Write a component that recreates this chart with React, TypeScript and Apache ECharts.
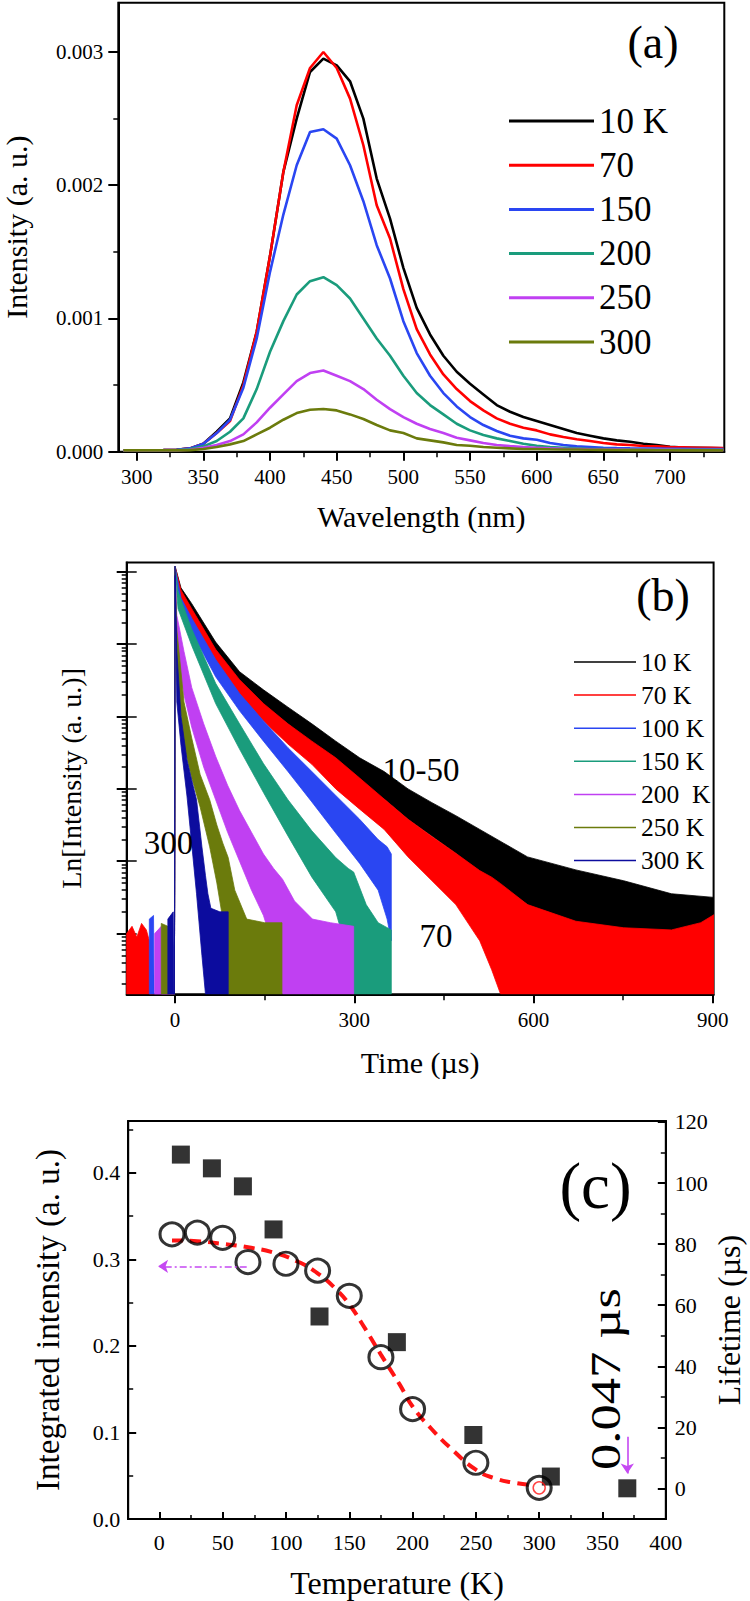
import React, { useEffect, useRef } from "react";
import * as echarts from "echarts";

const FONT = "Liberation Serif, Times New Roman, serif";

// ---------------- Panel (a): PL spectra (intensity in units of 1e-3 a.u.) ----------------
const wavelengthNm = [290, 300, 310, 320, 330, 340, 350, 360, 370, 380, 390, 400, 410, 420, 430, 440, 450, 460, 470, 480, 490, 500, 510, 520, 530, 540, 550, 560, 570, 580, 590, 600, 610, 620, 630, 640, 650, 660, 670, 680, 690, 700, 710, 720, 730, 740];
const plLabels = ["10 K", "70", "150", "200", "250", "300"];
const pl10 = [0.01, 0.01, 0.01, 0.012, 0.015, 0.025, 0.06, 0.15, 0.25, 0.52, 0.9, 1.47, 2.1, 2.5, 2.85, 2.95, 2.9, 2.78, 2.5, 2.05, 1.75, 1.38, 1.08, 0.88, 0.72, 0.6, 0.51, 0.43, 0.35, 0.3, 0.26, 0.23, 0.2, 0.17, 0.14, 0.12, 0.1, 0.085, 0.075, 0.06, 0.05, 0.037, 0.032, 0.03, 0.028, 0.025];
const pl70 = [0.01, 0.01, 0.01, 0.012, 0.015, 0.025, 0.06, 0.14, 0.23, 0.5, 0.9, 1.47, 2.1, 2.6, 2.88, 3.0, 2.88, 2.65, 2.3, 1.85, 1.6, 1.22, 0.92, 0.73, 0.58, 0.47, 0.38, 0.31, 0.25, 0.21, 0.18, 0.16, 0.13, 0.11, 0.094, 0.08, 0.065, 0.055, 0.05, 0.043, 0.04, 0.035, 0.033, 0.03, 0.03, 0.028];
const pl150 = [0.01, 0.01, 0.01, 0.012, 0.015, 0.025, 0.06, 0.14, 0.24, 0.48, 0.85, 1.35, 1.78, 2.15, 2.4, 2.42, 2.35, 2.15, 1.88, 1.55, 1.3, 0.98, 0.74, 0.57, 0.44, 0.34, 0.26, 0.2, 0.155, 0.12, 0.1, 0.09, 0.065, 0.05, 0.04, 0.035, 0.03, 0.027, 0.025, 0.024, 0.023, 0.022, 0.021, 0.02, 0.02, 0.02];
const pl200 = [0.01, 0.01, 0.01, 0.01, 0.012, 0.02, 0.04, 0.08, 0.15, 0.25, 0.47, 0.75, 0.98, 1.18, 1.28, 1.31, 1.25, 1.15, 1.0, 0.85, 0.72, 0.57, 0.44, 0.35, 0.28, 0.21, 0.16, 0.125, 0.1, 0.08, 0.06, 0.045, 0.035, 0.03, 0.025, 0.02, 0.02, 0.018, 0.018, 0.017, 0.016, 0.016, 0.015, 0.015, 0.015, 0.015];
const pl250 = [0.01, 0.01, 0.01, 0.01, 0.01, 0.015, 0.03, 0.05, 0.08, 0.13, 0.22, 0.33, 0.43, 0.53, 0.59, 0.61, 0.57, 0.53, 0.47, 0.39, 0.32, 0.26, 0.21, 0.17, 0.14, 0.105, 0.085, 0.065, 0.05, 0.042, 0.035, 0.03, 0.025, 0.022, 0.02, 0.018, 0.017, 0.016, 0.015, 0.015, 0.014, 0.014, 0.013, 0.013, 0.012, 0.012];
const pl300 = [0.01, 0.01, 0.01, 0.01, 0.01, 0.012, 0.02, 0.035, 0.055, 0.08, 0.13, 0.18, 0.24, 0.29, 0.315, 0.32, 0.31, 0.28, 0.245, 0.2, 0.16, 0.14, 0.1, 0.085, 0.07, 0.05, 0.045, 0.035, 0.03, 0.025, 0.02, 0.02, 0.018, 0.017, 0.016, 0.015, 0.014, 0.013, 0.012, 0.012, 0.011, 0.011, 0.01, 0.01, 0.01, 0.01];
const aXTicks = [300, 350, 400, 450, 500, 550, 600, 650, 700];
const aXMinor = [325, 375, 425, 475, 525, 575, 625, 675, 725];
const aYTicks = [0, 1, 2, 3];
const aYMinor = [0.5, 1.5, 2.5];

// ---------------- Panel (b): decay curves (log10 intensity, noise band upper/lower) ----------------
const decayLabels = ["10 K", "70 K", "100 K", "150 K", "200  K", "250 K", "300 K"];
const dT10 = [-1, 0, 10, 28, 68, 108, 148, 189, 229, 269, 309, 350, 390, 430, 470, 510, 550, 590, 671, 751, 831, 902];
const dU10 = [-0.84, 5.08, 4.78, 4.56, 4.03, 3.62, 3.37, 3.13, 2.9, 2.66, 2.43, 2.24, 2.0, 1.81, 1.63, 1.44, 1.25, 1.06, 0.88, 0.73, 0.55, 0.5];
const dL10 = [-0.84, 5.0, 4.67, 4.42, 3.84, 3.44, 3.16, 2.9, 2.62, 2.34, 2.05, 1.86, 1.58, 1.35, 1.11, 0.83, 0.64, 0.4, -0.07, -0.39, -0.63, -0.72];
const dT70 = [-81, -72, -64, -56, -48, -43, -42, -1, 0, 10, 28, 68, 108, 148, 189, 229, 269, 309, 350, 390, 430, 470, 510, 530, 545, 590, 671, 751, 831, 880, 902];
const dU70 = [0.0, 0.1, -0.05, 0.14, 0.05, -0.1, -0.84, -0.84, 5.08, 4.75, 4.49, 3.93, 3.51, 3.18, 2.9, 2.66, 2.43, 2.15, 1.86, 1.58, 1.34, 1.11, 0.87, 0.78, 0.69, 0.4, 0.17, 0.08, 0.05, 0.15, 0.26];
const dL70 = [-0.84, -0.84, -0.84, -0.84, -0.84, -0.84, -0.84, -0.84, 5.0, 4.63, 4.35, 3.74, 3.3, 2.94, 2.62, 2.34, 2.0, 1.72, 1.44, 1.06, 0.73, 0.4, -0.1, -0.5, -0.84, -0.84, -0.84, -0.84, -0.84, -0.84, -0.84];
const dT100 = [-43, -36, -35, -1, 0, 10, 28, 68, 108, 148, 189, 229, 269, 309, 340, 355, 362];
const dU100 = [0.2, 0.25, -0.84, -0.84, 5.08, 4.64, 4.36, 3.79, 3.32, 2.94, 2.57, 2.24, 1.91, 1.58, 1.3, 1.2, 1.1];
const dL100 = [-0.84, -0.84, -0.84, -0.84, 5.0, 4.49, 4.17, 3.55, 3.08, 2.66, 2.24, 1.82, 1.39, 0.97, 0.6, 0.2, -0.1];
const dT150 = [-1, 0, 5, 28, 68, 108, 148, 189, 229, 269, 290, 299, 320, 340, 362];
const dU150 = [-0.84, 5.08, 4.73, 4.21, 3.46, 2.9, 2.35, 1.85, 1.42, 1.05, 0.9, 0.85, 0.4, 0.15, 0.05];
const dL150 = [-0.84, 5.0, 4.49, 3.98, 3.18, 2.55, 1.95, 1.35, 0.78, 0.3, -0.3, -0.84, -0.84, -0.84, -0.84];
const dT200 = [-34, -23, -22, -1, 0, 3, 15, 28, 48, 68, 88, 108, 128, 148, 165, 180, 200, 230, 260, 299];
const dU200 = [0.0, 0.1, -0.84, -0.84, 5.08, 4.4, 3.9, 3.4, 2.9, 2.45, 2.05, 1.7, 1.4, 1.1, 0.9, 0.75, 0.45, 0.2, 0.15, 0.1];
const dL200 = [-0.84, -0.84, -0.84, -0.84, 5.0, 3.9, 3.3, 2.85, 2.3, 1.85, 1.4, 1.0, 0.6, 0.25, -0.2, -0.84, -0.84, -0.84, -0.84, -0.84];
const dT250 = [-23, -12, -11, -1, 0, 3, 15, 28, 42, 58, 70, 80, 89, 100, 120, 150, 179];
const dU250 = [0.14, 0.1, -0.84, -0.84, 5.08, 4.2, 3.2, 2.7, 2.2, 1.85, 1.5, 1.25, 1.05, 0.6, 0.2, 0.15, 0.15];
const dL250 = [-0.84, -0.84, -0.84, -0.84, 5.0, 3.6, 2.6, 2.15, 1.75, 1.2, 0.7, 0.2, -0.84, -0.84, -0.84, -0.84, -0.84];
const dT300 = [-12, -3, -2, -1, 0, 3, 10, 20, 30, 36, 45, 51, 55, 60, 75, 89];
const dU300 = [0.2, 0.3, -0.84, -0.84, 5.08, 3.9, 3.0, 2.4, 2.05, 1.85, 1.2, 0.8, 0.55, 0.35, 0.3, 0.3];
const dL300 = [-0.84, -0.84, -0.84, -0.84, 4.95, 3.2, 2.6, 1.9, 1.06, 0.55, -0.3, -0.84, -0.84, -0.84, -0.84, -0.84];
const bXTicks = [0, 300, 600, 900];
const bXMinor = [150, 450, 750];
const bYDecades = [0, 1, 2, 3, 4, 5];
const bYMinor = [-1, 0, 1, 2, 3, 4].flatMap((n) => [2, 3, 4, 5, 6, 7, 8, 9].map((k) => n + Math.log10(k))).filter((v) => v > -0.84 && v < 5.13);

// ---------------- Panel (c) ----------------
const tempCircle = [10, 30, 50, 70, 100, 125, 150, 175, 200, 250, 300];
const intCircle = [0.329, 0.331, 0.325, 0.297, 0.295, 0.287, 0.258, 0.187, 0.127, 0.065, 0.036];
const tempSquare = [17, 41.5, 66, 90.2, 126.5, 187.6, 248, 309.2, 369.6];
const lifeSquare = [109.3, 104.8, 98.9, 84.8, 56.3, 47.9, 17.5, 3.9, 0.047];
const fitT = [10, 30, 50, 70, 90, 110, 125, 140, 150, 160, 175, 190, 200, 215, 230, 250, 265, 280, 295];
const fitI = [0.322, 0.321, 0.318, 0.314, 0.308, 0.297, 0.284, 0.265, 0.248, 0.226, 0.19, 0.155, 0.13, 0.104, 0.082, 0.057, 0.047, 0.042, 0.039];
const cXTicks = [0, 50, 100, 150, 200, 250, 300, 350, 400];
const cXMinor = [25, 75, 125, 175, 225, 275, 325, 375];
const cYLTicks = [0, 0.1, 0.2, 0.3, 0.4];
const cYLMinor = [0.05, 0.15, 0.25, 0.35, 0.45];
const cYRTicks = [0, 20, 40, 60, 80, 100, 120];
const cYRMinor = [-10, 10, 30, 50, 70, 90, 110];

const COL = {
  black: "#000000",
  red: "#ff0000",
  blue: "#2a46f2",
  teal: "#1a9c7c",
  magenta: "#c040f2",
  olive: "#6b7b0c",
  navy: "#0c0c9e",
};

const BLK = "#000";

function tickAxis(gridIndex: number, position: string, min: number, max: number, values: number[], length: number, inside: boolean) {
  return {
    type: "value",
    gridIndex,
    position,
    min,
    max,
    axisLine: { show: false, onZero: false },
    axisTick: { show: true, inside, length, customValues: values, lineStyle: { color: BLK, width: 1.5 } },
    axisLabel: { show: false },
    splitLine: { show: false },
  };
}

function mainAxis(o: any) {
  return {
    type: "value",
    gridIndex: o.grid,
    position: o.position,
    min: o.min,
    max: o.max,
    axisLine: { show: true, onZero: false, lineStyle: { color: BLK, width: 2 } },
    axisTick: { show: true, inside: !!o.inside, length: o.tickLen, customValues: o.ticks, lineStyle: { color: BLK, width: 2 } },
    axisLabel: o.labels
      ? { show: true, customValues: o.ticks, formatter: o.formatter, fontSize: o.labelSize, fontFamily: FONT, color: BLK, margin: o.margin }
      : { show: false },
    splitLine: { show: false },
    name: o.name,
    nameLocation: "middle",
    nameGap: o.nameGap,
    nameRotate: o.nameRotate,
    nameMoveOverlap: false,
    nameTextStyle: { fontSize: o.nameSize, fontFamily: FONT, color: BLK },
  };
}

function lineSeries(name: string, color: string, values: number[]) {
  return {
    type: "line",
    name,
    xAxisIndex: 0,
    yAxisIndex: 0,
    color,
    itemStyle: { color },
    symbol: "none",
    showSymbol: false,
    lineStyle: { color, width: 2.6 },
    data: wavelengthNm.map((w, i) => [w, values[i]]),
    z: 2,
  };
}

function bandSeries(name: string, color: string, T: number[], U: number[], L: number[]) {
  return {
    type: "custom",
    name,
    xAxisIndex: 2,
    yAxisIndex: 2,
    color,
    itemStyle: { color },
    clip: true,
    data: T.map((t, i) => [t, U[i], L[i]]),
    encode: { x: 0, y: [1, 2] },
    renderItem: (params: any, api: any) => {
      if (params.dataIndex !== 0) return null;
      const pts: number[][] = [];
      for (let i = 0; i < T.length; i++) pts.push(api.coord([T[i], U[i]]));
      for (let i = T.length - 1; i >= 0; i--) pts.push(api.coord([T[i], L[i]]));
      return {
        type: "polygon",
        shape: { points: pts },
        style: { fill: color, stroke: color, lineWidth: 0.8 },
      };
    },
  };
}

function txt(text: string, x: number, y: number, size: number, rotation = 0, scaleX = 1) {
  return {
    type: "text",
    x,
    y,
    rotation,
    scaleX,
    z: 100,
    style: { text, fontSize: size, fontFamily: FONT, fill: BLK, align: "center", verticalAlign: "middle" },
  };
}

function buildOption() {
  const gridBase = { show: true, borderColor: BLK, borderWidth: 2, backgroundColor: "transparent", outerBoundsMode: "none", containLabel: false };
  return {
    animation: false,
    backgroundColor: "#ffffff",
    textStyle: { fontFamily: FONT },
    grid: [
      { ...gridBase, left: 118.3, top: 2.7, width: 606, height: 449 },
      { ...gridBase, left: 126.7, top: 562.5, width: 586.9, height: 431.8 },
      { ...gridBase, left: 128.2, top: 1121, width: 537.6, height: 398 },
    ],
    xAxis: [
      mainAxis({ grid: 0, position: "bottom", min: 286.2, max: 740.7, ticks: aXTicks, tickLen: 9, labels: true, labelSize: 21, margin: 15, name: "Wavelength (nm)", nameGap: 50, nameSize: 30 }),
      tickAxis(0, "bottom", 286.2, 740.7, aXMinor, 5.5, false),
      mainAxis({ grid: 1, position: "bottom", min: -80.9, max: 901.5, ticks: bXTicks, tickLen: 9, labels: true, labelSize: 21, margin: 15, name: "Time (µs)", nameGap: 53, nameSize: 30 }),
      tickAxis(1, "bottom", -80.9, 901.5, bXMinor, 6, false),
      mainAxis({ grid: 2, position: "bottom", min: -24.6, max: 400, ticks: cXTicks, tickLen: 7, inside: true, labels: true, labelSize: 22, margin: 12, name: "Temperature (K)", nameGap: 48, nameSize: 32 }),
      tickAxis(2, "bottom", -24.6, 400, cXMinor, 4, true),
    ],
    yAxis: [
      mainAxis({ grid: 0, position: "left", min: 0, max: 3.37, ticks: aYTicks, tickLen: 10, labels: true, labelSize: 21, margin: 15, formatter: (v: number) => (v / 1000).toFixed(3), name: "Intensity (a. u.)", nameGap: 86.6, nameRotate: 90, nameSize: 30 }),
      tickAxis(0, "left", 0, 3.37, aYMinor, 5, false),
      mainAxis({ grid: 1, position: "left", min: -0.84, max: 5.13, ticks: bYDecades, tickLen: 10, labels: false, name: "Ln[Intensity (a. u.)]", nameGap: 41, nameRotate: 90, nameSize: 28 }),
      tickAxis(1, "left", -0.84, 5.13, bYMinor, 5, false),
      tickAxis(1, "left", -0.84, 5.13, bYDecades, 10, true),
      mainAxis({ grid: 2, position: "left", min: 0, max: 0.46, ticks: cYLTicks, tickLen: 8, inside: true, labels: true, labelSize: 22, margin: 8, formatter: (v: number) => v.toFixed(1), name: "Integrated intensity (a. u.)", nameGap: 64, nameRotate: 90, nameSize: 33 }),
      tickAxis(2, "left", 0, 0.46, cYLMinor, 5, true),
      mainAxis({ grid: 2, position: "right", min: -10, max: 120.3, ticks: cYRTicks, tickLen: 8, inside: true, labels: true, labelSize: 22, margin: 9, formatter: (v: number) => String(v), name: "Lifetime (µs)", nameGap: 47, nameRotate: 90, nameSize: 32 }),
      tickAxis(2, "right", -10, 120.3, cYRMinor, 5, true),
    ],
    legend: [
      {
        data: plLabels,
        orient: "vertical",
        left: 509,
        top: 103.5,
        padding: 0,
        icon: "rect",
        itemWidth: 85,
        itemHeight: 3,
        itemGap: 9.2,
        selectedMode: false,
        textStyle: { fontSize: 35, lineHeight: 35, fontFamily: FONT, color: BLK },
      },
      {
        data: decayLabels,
        orient: "vertical",
        left: 574,
        top: 649,
        padding: 0,
        icon: "rect",
        itemWidth: 62,
        itemHeight: 1.5,
        itemGap: 7.1,
        selectedMode: false,
        textStyle: { fontSize: 25.5, lineHeight: 25.5, fontFamily: FONT, color: BLK },
      },
    ],
    series: [
      lineSeries(plLabels[0], COL.black, pl10),
      lineSeries(plLabels[1], COL.red, pl70),
      lineSeries(plLabels[2], COL.blue, pl150),
      lineSeries(plLabels[3], COL.teal, pl200),
      lineSeries(plLabels[4], COL.magenta, pl250),
      lineSeries(plLabels[5], COL.olive, pl300),
      bandSeries(decayLabels[0], COL.black, dT10, dU10, dL10),
      bandSeries(decayLabels[1], COL.red, dT70, dU70, dL70),
      bandSeries(decayLabels[2], COL.blue, dT100, dU100, dL100),
      bandSeries(decayLabels[3], COL.teal, dT150, dU150, dL150),
      bandSeries(decayLabels[4], COL.magenta, dT200, dU200, dL200),
      bandSeries(decayLabels[5], COL.olive, dT250, dU250, dL250),
      bandSeries(decayLabels[6], COL.navy, dT300, dU300, dL300),
      {
        type: "line",
        name: "fit",
        xAxisIndex: 4,
        yAxisIndex: 5,
        symbol: "none",
        smooth: true,
        lineStyle: { color: "#ff1414", width: 4, type: [11, 7] },
        data: fitT.map((t, i) => [t, fitI[i]]),
        z: 2,
      },
      {
        type: "scatter",
        name: "Integrated intensity",
        xAxisIndex: 4,
        yAxisIndex: 5,
        symbol: "circle",
        symbolSize: [24, 23],
        itemStyle: { color: "rgba(0,0,0,0)", borderColor: BLK, borderWidth: 3 },
        data: tempCircle.map((t, i) => [t, intCircle[i]]),
        z: 3,
        markLine: {
          silent: true,
          symbol: ["none", "arrow"],
          symbolSize: 10,
          label: { show: false },
          lineStyle: { color: "#c548f2", width: 1.6, type: [7, 3, 2, 3] },
          data: [[{ coord: [69, 0.292] }, { coord: [-1, 0.292] }]],
        },
      },
      {
        type: "scatter",
        name: "ref",
        xAxisIndex: 4,
        yAxisIndex: 5,
        symbol: "circle",
        symbolSize: 12,
        itemStyle: { color: "rgba(0,0,0,0)", borderColor: "#ff1414", borderWidth: 1.5 },
        data: [[tempCircle[10], intCircle[10]]],
        z: 4,
      },
      {
        type: "scatter",
        name: "Lifetime",
        xAxisIndex: 4,
        yAxisIndex: 7,
        symbol: "rect",
        symbolSize: [18, 18],
        itemStyle: { color: BLK },
        data: tempSquare.map((t, i) => [t, lifeSquare[i]]),
        z: 3,
        markLine: {
          silent: true,
          symbol: ["none", "arrow"],
          symbolSize: 10,
          label: { show: false },
          lineStyle: { color: "#c548f2", width: 1.6, type: "solid" },
          data: [[{ coord: [369.6, 16.9] }, { coord: [369.6, 4.9] }]],
        },
      },
    ],
    graphic: [
      txt("(a)", 653, 42.5, 46),
      txt("(b)", 663, 595.6, 46),
      txt("(c)", 595.5, 1186, 65),
      txt("10-50", 421, 770, 33),
      txt("70", 436, 936, 33),
      txt("300", 168.5, 843, 33),
      txt("0.047 µs", 605, 1379, 43, Math.PI / 2, 1.22),
    ],
  };
}

export default function App() {
  const ref = useRef<HTMLDivElement>(null);
  useEffect(() => {
    document.body.style.margin = "0";
    const chart = echarts.init(ref.current as HTMLDivElement, null, { renderer: "svg" });
    chart.setOption(buildOption() as any);
    return () => chart.dispose();
  }, []);
  return <div ref={ref} style={{ width: 750, height: 1601 }} />;
}
